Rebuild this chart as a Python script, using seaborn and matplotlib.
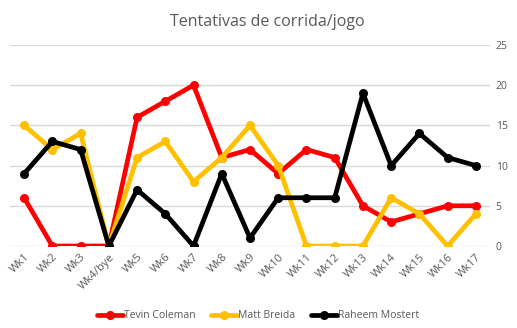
import matplotlib
matplotlib.use("Agg")
import matplotlib.pyplot as plt
import seaborn as sns
import pandas as pd

semanas = ["Wk1", "Wk2", "Wk3", "Wk4/bye", "Wk5", "Wk6", "Wk7", "Wk8", "Wk9",
           "Wk10", "Wk11", "Wk12", "Wk13", "Wk14", "Wk15", "Wk16", "Wk17"]
tevin = [6, 0, 0, 0, 16, 18, 20, 11, 12, 9, 12, 11, 5, 3, 4, 5, 5]
matt = [15, 12, 14, 0, 11, 13, 8, 11, 15, 10, 0, 0, 0, 6, 4, 0, 4]
raheem = [9, 13, 12, 0, 7, 4, 0, 9, 1, 6, 6, 6, 19, 10, 14, 11, 10]

jogadores = ["Tevin Coleman", "Matt Breida", "Raheem Mostert"]
cores = ["#FF0000", "#FFC000", "#000000"]

linhas = []
for nome, valores in zip(jogadores, [tevin, matt, raheem]):
    for i, v in enumerate(valores):
        linhas.append((i, v, nome))
df = pd.DataFrame(linhas, columns=["semana", "tentativas", "jogador"])

sns.set_style("white")
plt.rcParams["font.family"] = ["Open Sans", "DejaVu Sans"]
cinza = "#595959"

fig = plt.figure(figsize=(5.17, 3.28), dpi=100)
ax = fig.add_axes([10 / 517, 1 - 246 / 328, 480 / 517, 201 / 328])

sns.lineplot(data=df, x="semana", y="tentativas", hue="jogador",
             hue_order=jogadores, palette=cores, marker="o", markersize=6.5,
             markeredgewidth=0, linewidth=3.4, ax=ax, legend=True)

ax.set_xlim(-0.5, len(semanas) - 0.5)
ax.set_ylim(0, 25)
ax.set_yticks([0, 5, 10, 15, 20, 25])
ax.yaxis.tick_right()
ax.grid(axis="y", color="#D9D9D9", linewidth=1)
ax.set_axisbelow(True)
for s in ax.spines.values():
    s.set_visible(False)
ax.set_xticks(range(len(semanas)))
ax.set_xticklabels(semanas, rotation=45, ha="right", rotation_mode="anchor",
                   fontsize=8, color=cinza)
ax.tick_params(axis="y", labelsize=7.5, colors=cinza, length=0, pad=4)
ax.tick_params(axis="x", length=0, pad=4)
ax.set_xlabel("")
ax.set_ylabel("")

fig.text(267 / 517, 1 - 22 / 328, "Tentativas de corrida/jogo", ha="center",
         va="center", fontsize=11.5, color=cinza)

leg = ax.legend(loc="center", bbox_to_anchor=(258 / 517, 1 - 316 / 328),
                bbox_transform=fig.transFigure, ncol=3, frameon=False,
                fontsize=7.5, handlelength=2.5, handletextpad=0.1,
                columnspacing=1.5)
for t in leg.get_texts():
    t.set_color(cinza)

fig.savefig("out.png", dpi=100)
